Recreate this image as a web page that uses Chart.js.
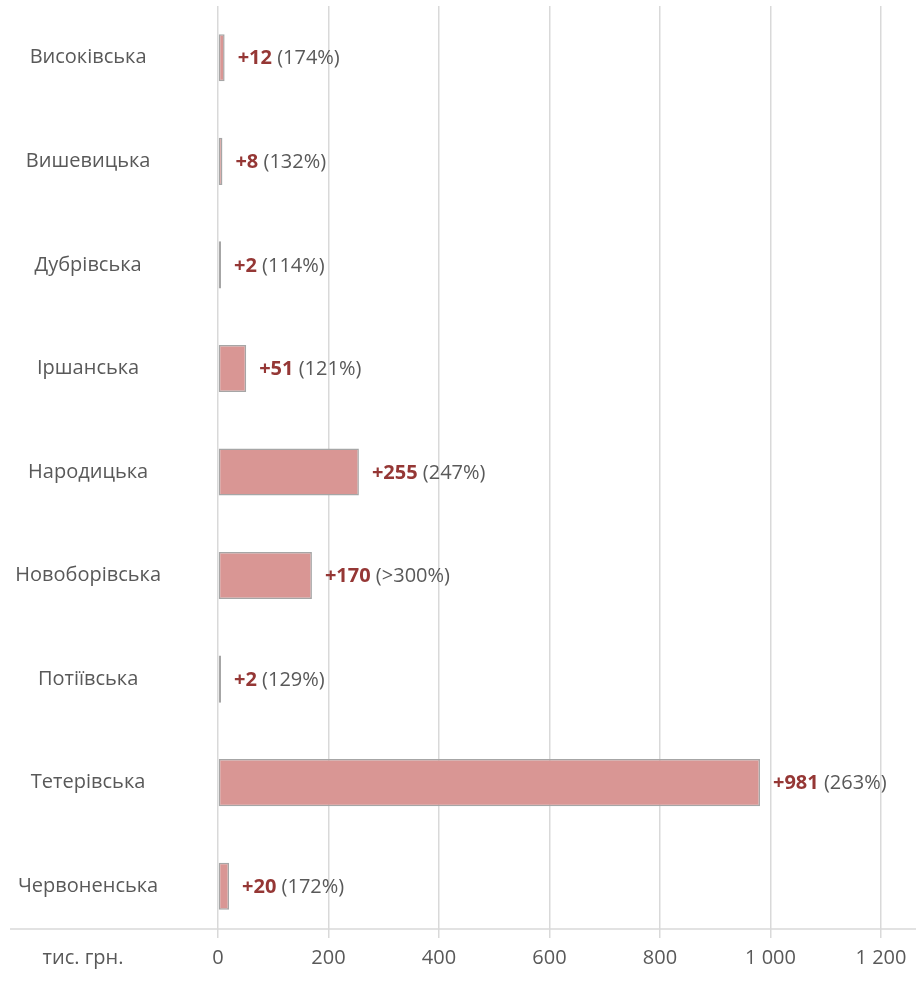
<!DOCTYPE html>
<html>
<head>
<meta charset="utf-8">
<script src="https://cdn.jsdelivr.net/npm/chart.js@4"></script>
<style>
  html, body { margin: 0; padding: 0; background: #fff; }
  #wrap { width: 916px; height: 983px; }
</style>
</head>
<body>
<div id="wrap"><canvas id="myChart" width="916" height="983"></canvas></div>
<script>
const categories = ['Високівська', 'Вишевицька', 'Дубрівська', 'Іршанська', 'Народицька', 'Новоборівська', 'Потіївська', 'Тетерівська', 'Червоненська'];
const growth = [12, 8, 2, 51, 255, 170, 2, 981, 20];
const growthPct = ['174%', '132%', '114%', '121%', '247%', '>300%', '129%', '263%', '172%'];
const xTicks = [0, 200, 400, 600, 800, 1000, 1200];
const unitLabel = 'тис. грн.';

const FONT = '"Open Sans", "Noto Sans", sans-serif';
const FSIZE = 20;

// numbers like 1 000
const fmt = v => String(v).replace(/\B(?=(\d{3})+(?!\d))/g, ' ');

const barLabels = {
  id: 'barLabels',
  afterDatasetsDraw(chart) {
    const ctx = chart.ctx;
    const meta = chart.getDatasetMeta(0);
    ctx.save();
    ctx.textBaseline = 'middle';
    ctx.textAlign = 'left';
    meta.data.forEach((bar, i) => {
      let x = bar.x + 13;
      const y = bar.y + 1;
      const a = '+' + growth[i];
      ctx.font = 'bold ' + FSIZE + 'px ' + FONT;
      ctx.fillStyle = '#953735';
      ctx.fillText(a, x, y);
      x += ctx.measureText(a).width;
      ctx.font = FSIZE + 'px ' + FONT;
      ctx.fillStyle = '#595959';
      ctx.fillText(' (' + growthPct[i] + ')', x, y);
    });
    ctx.restore();
  }
};

const extras = {
  id: 'extras',
  afterDraw(chart) {
    const ctx = chart.ctx;
    ctx.save();
    // bottom line
    ctx.strokeStyle = '#d9d9d9';
    ctx.lineWidth = 1.5;
    ctx.beginPath();
    ctx.moveTo(10, 929);
    ctx.lineTo(916, 929);
    ctx.stroke();
    // unit label
    ctx.font = FSIZE + 'px ' + FONT;
    ctx.fillStyle = '#595959';
    ctx.textAlign = 'center';
    ctx.textBaseline = 'middle';
    ctx.fillText(unitLabel, 83, 958);
    ctx.restore();
  }
};

const ctx = document.getElementById('myChart').getContext('2d');
const myChart = new Chart(ctx, {
  type: 'bar',
  data: {
    labels: categories,
    datasets: [{
      data: growth,
      backgroundColor: '#d99694',
      borderColor: '#a6a6a6',
      borderWidth: 1.5,
      borderSkipped: false,
      minBarLength: 3,
      barPercentage: 0.455,
      categoryPercentage: 1
    }]
  },
  options: {
    indexAxis: 'y',
    responsive: false,
    animation: false,
    layout: { padding: { top: 6, right: 35, left: 0, bottom: 0 } },
    plugins: { legend: { display: false }, tooltip: { enabled: false } },
    scales: {
      x: {
        min: 0,
        max: 1200,
        afterBuildTicks: s => { s.ticks = xTicks.map(v => ({ value: v })); },
        afterFit: s => { s.height = 45; s.paddingLeft = 0; s.paddingRight = 0; },
        border: { display: false },
        grid: { color: '#d9d9d9', lineWidth: 1.5, drawTicks: false },
        ticks: {
          padding: 8,
          maxRotation: 0,
          color: '#595959',
          font: { family: FONT, size: FSIZE },
          callback: v => fmt(v)
        }
      },
      y: {
        afterFit: s => { s.width = 218; s.paddingTop = 0; s.paddingBottom = 0; },
        border: { display: false },
        grid: { display: false, drawTicks: true, tickLength: 53 },
        ticks: {
          crossAlign: 'center',
          padding: 4,
          color: '#595959',
          font: { family: FONT, size: FSIZE }
        }
      }
    }
  },
  plugins: [barLabels, extras]
});
</script>
</body>
</html>
